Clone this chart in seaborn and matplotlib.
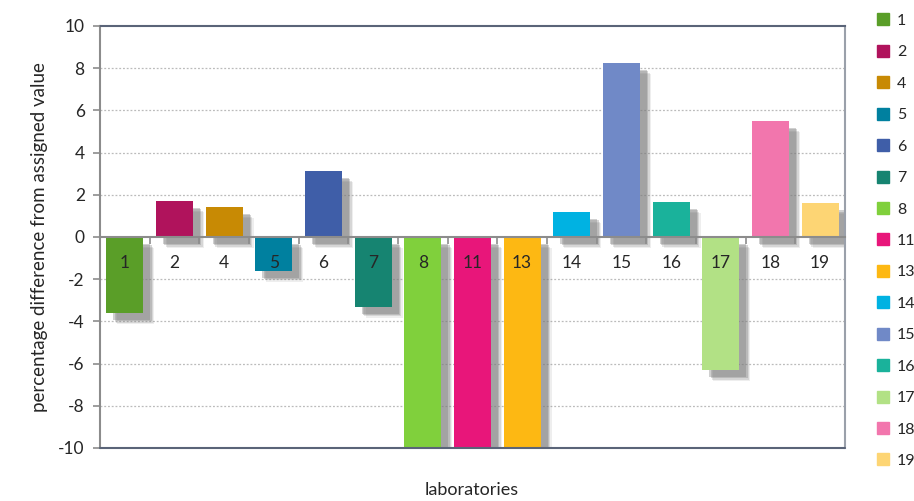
import matplotlib
matplotlib.use("Agg")
import matplotlib.pyplot as plt
import matplotlib.patheffects as pe
from matplotlib.lines import Line2D
import seaborn as sns
import pandas as pd

labs = ["1", "2", "4", "5", "6", "7", "8", "11", "13", "14", "15", "16", "17", "18", "19"]
values = [-3.6, 1.7, 1.42, -1.6, 3.13, -3.3, -10.2, -10.2, -10.2, 1.18, 8.25, 1.66, -6.3, 5.5, 1.6]
colors = ["#5a9e28", "#b0135c", "#c88a04", "#00809f", "#3f5ea8", "#168471", "#80d03c",
          "#e8167a", "#fdb813", "#00b2e2", "#7089c7", "#1ab29b", "#b2e185", "#f276ad", "#fdd574"]
yticks = [-10, -8, -6, -4, -2, 0, 2, 4, 6, 8, 10]

sns.set_theme(style="white")
plt.rcParams["font.family"] = ["Lato", "DejaVu Sans"]

df = pd.DataFrame({"lab": labs, "value": values})
fig = plt.figure(figsize=(9.14, 5.01), dpi=100)
ax = fig.add_axes([100/914, 1-448/501, 745/914, 422/501])

sns.barplot(data=df, x="lab", y="value", hue="lab", order=labs, hue_order=labs,
            palette=colors, dodge=False, legend=False, width=0.745, ax=ax,
            saturation=1, errorbar=None, linewidth=0)
shadow = [pe.SimplePatchShadow(offset=(o, -o), shadow_rgbFace="#7a7a7a", alpha=a)
          for o, a in [(8, 0.12), (7, 0.2), (6, 0.3), (5, 0.35)]]
for p in ax.patches:
    p.set_linewidth(0)
    p.set_path_effects(shadow + [pe.Normal()])
    p.set_zorder(2)

ax.set_axisbelow(False)
ax.set_ylim(-10, 10)
ax.set_xlim(-0.5, len(labs) - 0.5)
ax.set_yticks(yticks)
ax.set_yticklabels([str(t) for t in yticks], fontsize=12.5)
for t in yticks:
    if t not in (-10, 0, 10):
        ax.axhline(t, color="#bbbbbb", lw=0.9, ls=(0, (1.5, 1.5)), zorder=0)

# frame
ax.spines["bottom"].set_position(("data", 0))
ax.spines["bottom"].set_color("#8c8c8c")
ax.spines["bottom"].set_linewidth(1.5)
ax.spines["left"].set_color("#8c8c8c")
ax.spines["left"].set_linewidth(1.5)
ax.spines["top"].set_color("#5a6478")
ax.spines["top"].set_linewidth(1.5)
ax.spines["right"].set_color("#9aa0aa")
ax.spines["right"].set_linewidth(1.5)
ax.axhline(-10, color="#5a6478", lw=1.5, zorder=5, clip_on=False)

ax.tick_params(axis="y", left=True, length=5, color="#8c8c8c", width=1.2, pad=6)
ax.set_xticks(range(len(labs)))
ax.set_xticklabels(labs, fontsize=12.5)
ax.tick_params(axis="x", which="major", length=0, pad=13)
ax.set_xticks([i + 0.5 for i in range(len(labs) - 1)], minor=True)
ax.tick_params(axis="x", which="minor", bottom=True, length=5, color="#8c8c8c", width=1.2, direction="out")
ax.set_xlabel("")
ax.set_ylabel("percentage difference from assigned value", fontsize=13.5, labelpad=7)
fig.text(472/914, 1-490/501, "laboratories", ha="center", va="center", fontsize=13)

handles = [Line2D([0], [0], marker="s", color="none", markerfacecolor=c, markeredgecolor=c,
                  markersize=8) for c in colors]
fig.legend(handles, labs, loc="upper left", bbox_to_anchor=(862/914, 1-1/501), frameon=False,
           fontsize=11.5, labelspacing=1.08, handlelength=1.0, handletextpad=0.4, borderpad=0.3)

fig.savefig("out.png", dpi=100)
